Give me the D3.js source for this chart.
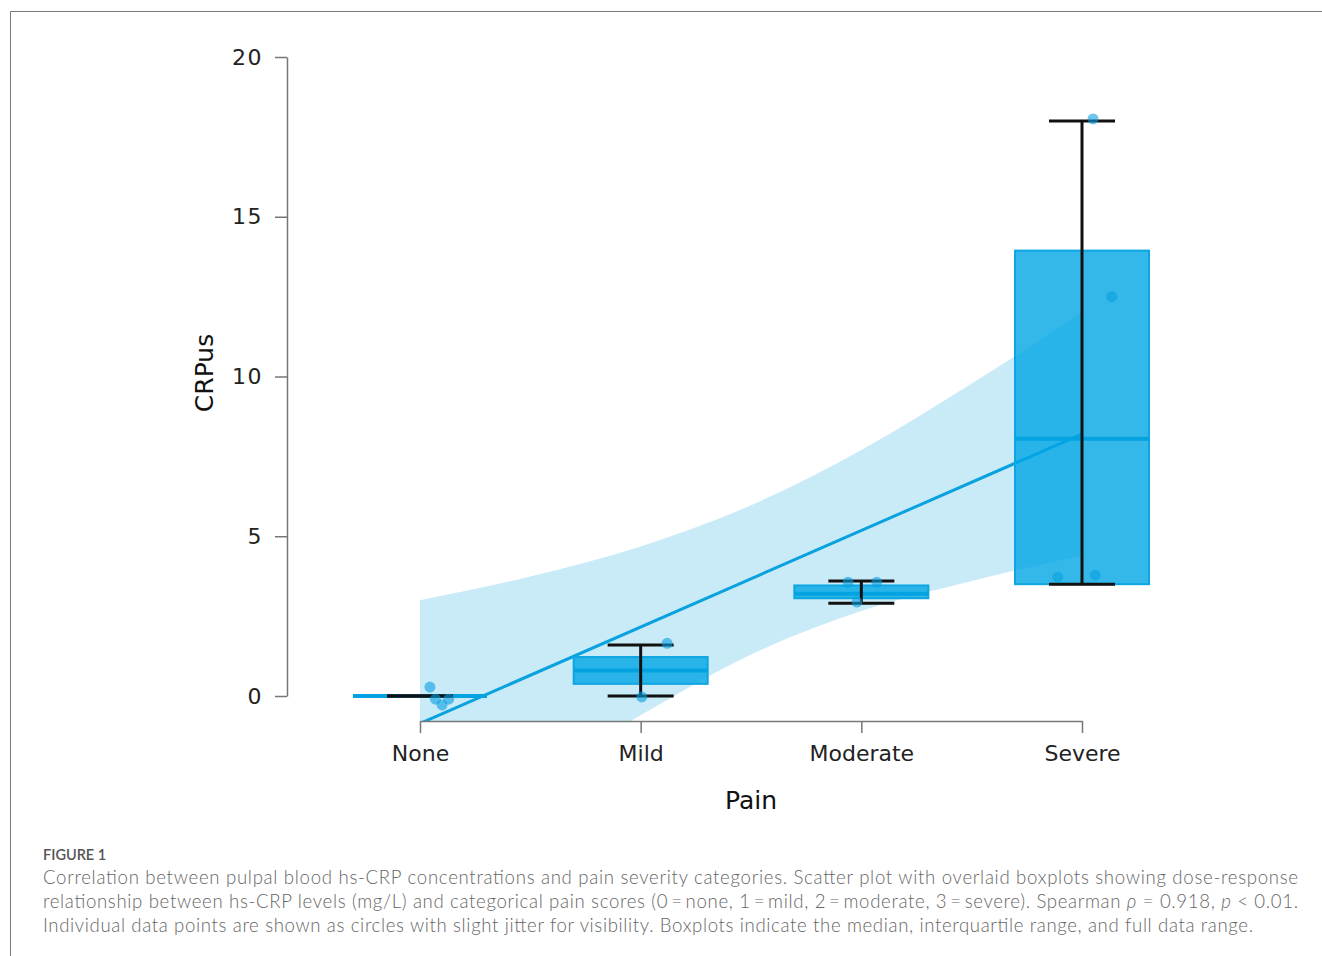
<!DOCTYPE html>
<html>
<head>
<meta charset="utf-8">
<script src="https://cdn.jsdelivr.net/npm/d3@7"></script>
<style>
body { margin: 0; background: #fff; }
svg { display: block; }
</style>
</head>
<body>
<svg width="1322" height="956"></svg>
<script>
// categories and box summaries
var categories = ["None", "Mild", "Moderate", "Severe"];
var q1 = [0, 0.38, 3.06, 3.5];
var median = [0, 0.8, 3.2, 8.05];
var q3 = [0, 1.22, 3.46, 13.94];
var whiskerLow = [0, 0, 2.9, 3.5];
var whiskerHigh = [0, 1.6, 3.6, 18.0];

// jittered points: pain score, jitter offset, value
var pointCat = [0, 0, 0, 0, 1, 1, 2, 2, 2, 3, 3, 3, 3];
var pointJitter = [0.045, 0.07, 0.10, 0.13, 0.12, 0.005, -0.06, 0.07, -0.02, 0.05, 0.135, -0.11, 0.06];
var pointValue = [0.28, -0.1, -0.28, -0.1, 1.65, -0.03, 3.56, 3.56, 2.94, 18.06, 12.5, 3.72, 3.78];

// fitted line and confidence band
var fitX = [0, 3];
var fitY = [-0.86, 8.2];
var bandX = [0, 0.5, 1, 1.5, 2, 2.5, 3];
var bandUpper = [3.0, 3.74, 4.68, 5.97, 7.7, 9.78, 12.0];
var bandLower = [-4.72, -2.6, -0.6, 1.3, 2.66, 3.6, 4.4];

var yTicks = [0, 5, 10, 15, 20];

var svg = d3.select("svg");
var font = "'DejaVu Sans', sans-serif";

var x = d3.scaleLinear().domain([0, 3]).range([420, 1082]);
var y = d3.scaleLinear().domain([0, 20]).range([696, 57]);
var boxHalf = 67, capHalf = 33;
var bottom = 721;

// frame
svg.append("path")
	.attr("d", "M10.5,956 V11.5 H1322")
	.attr("fill", "none")
	.attr("stroke", "#7a7a7a")
	.attr("stroke-width", 1);

svg.append("clipPath").attr("id", "plotclip")
	.append("rect")
	.attr("x", x(0)).attr("y", y(20))
	.attr("width", x(3) - x(0)).attr("height", bottom - y(20));

var plot = svg.append("g").attr("clip-path", "url(#plotclip)");

var band = bandX.map(function(v, i){ return {x: v, lo: bandLower[i], hi: bandUpper[i]}; });
plot.append("path")
	.datum(band)
	.attr("fill", "#c9ebf8")
	.attr("d", d3.area()
		.x(function(d){ return x(d.x); })
		.y0(function(d){ return y(d.lo); })
		.y1(function(d){ return y(d.hi); })
		.curve(d3.curveMonotoneX));

plot.append("path")
	.datum(fitX.map(function(v, i){ return [v, fitY[i]]; }))
	.attr("fill", "none")
	.attr("stroke", "#0aa2de")
	.attr("stroke-width", 3)
	.attr("d", d3.line()
		.x(function(d){ return x(d[0]); })
		.y(function(d){ return y(d[1]); }));

// boxes
var boxes = svg.append("g");
categories.forEach(function(c, i){
	var cx = x(i);
	boxes.append("rect")
		.attr("x", cx - boxHalf)
		.attr("y", y(q3[i]))
		.attr("width", boxHalf * 2)
		.attr("height", y(q1[i]) - y(q3[i]))
		.attr("fill", "rgba(0, 166, 228, 0.8)")
		.attr("stroke", "#0ea6e2")
		.attr("stroke-width", 2);
	boxes.append("line")
		.attr("x1", cx - boxHalf).attr("x2", cx + boxHalf)
		.attr("y1", y(median[i])).attr("y2", y(median[i]))
		.attr("stroke", "#03a2e0")
		.attr("stroke-width", 4);
	// whiskers
	boxes.append("line")
		.attr("x1", cx).attr("x2", cx)
		.attr("y1", y(whiskerLow[i])).attr("y2", y(whiskerHigh[i]))
		.attr("stroke", "#111").attr("stroke-width", 3);
	[whiskerLow[i], whiskerHigh[i]].forEach(function(w){
		boxes.append("line")
			.attr("x1", cx - capHalf).attr("x2", cx + capHalf)
			.attr("y1", y(w)).attr("y2", y(w))
			.attr("stroke", "#111").attr("stroke-width", 3);
	});
});

// points
svg.append("g").selectAll("circle")
	.data(pointValue)
	.enter().append("circle")
	.attr("cx", function(d, i){ return x(pointCat[i] + pointJitter[i]); })
	.attr("cy", function(d){ return y(d); })
	.attr("r", 5.5)
	.attr("fill", "rgba(8, 158, 224, 0.6)");

// axes
var yAxis = svg.append("g")
	.attr("transform", "translate(287,0)")
	.call(d3.axisLeft(y).tickValues(yTicks).tickSize(12).tickSizeOuter(0).tickPadding(12));
var xAxis = svg.append("g")
	.attr("transform", "translate(0," + bottom + ")")
	.call(d3.axisBottom(x).tickValues([0, 1, 2, 3]).tickSize(12).tickSizeOuter(0).tickPadding(12)
		.tickFormat(function(d){ return categories[d]; }));

[yAxis, xAxis].forEach(function(a){
	a.select(".domain").attr("stroke", "#777").attr("stroke-width", 1.5);
	a.selectAll(".tick line").attr("stroke", "#777").attr("stroke-width", 1.5);
	a.selectAll(".tick text").attr("fill", "#222").style("font-family", font).style("font-size", "22px");
});
yAxis.selectAll(".tick text").style("letter-spacing", "1.5px");

svg.append("text")
	.attr("x", 751).attr("y", 809)
	.attr("text-anchor", "middle")
	.style("font-family", font).style("font-size", "25px")
	.attr("fill", "#111")
	.text("Pain");

svg.append("text")
	.attr("transform", "translate(213,373) rotate(-90)")
	.attr("text-anchor", "middle")
	.style("font-family", font).style("font-size", "25px")
	.attr("fill", "#111")
	.text("CRPus");

// caption
var capFont = "Lato, 'Open Sans', sans-serif";
svg.append("text")
	.attr("x", 43).attr("y", 860)
	.style("font-family", capFont).style("font-size", "14.5px").style("font-weight", 600)
	.attr("fill", "#555")
	.text("FIGURE 1");

var lines = [
	{y: 884, w: 1255, parts: [["Correlation between pulpal blood hs-CRP concentrations and pain severity categories. Scatter plot with overlaid boxplots showing dose-response", false]]},
	{y: 908, w: 1255, parts: [["relationship between hs-CRP levels (mg/L) and categorical pain scores (0\u2009=\u2009none, 1\u2009=\u2009mild, 2\u2009=\u2009moderate, 3\u2009=\u2009severe). Spearman ", false], ["\u03c1", true], [" = 0.918, ", false], ["p", true], [" < 0.01.", false]]},
	{y: 932, w: 1210, parts: [["Individual data points are shown as circles with slight jitter for visibility. Boxplots indicate the median, interquartile range, and full data range.", false]]}
];
lines.forEach(function(l){
	var t = svg.append("text")
		.attr("x", 43).attr("y", l.y)
		.attr("textLength", l.w).attr("lengthAdjust", "spacing")
		.style("font-family", capFont).style("font-size", "18.6px").style("font-weight", 300)
		.attr("fill", "#666");
	l.parts.forEach(function(p){
		t.append("tspan").style("font-style", p[1] ? "italic" : "normal").text(p[0]);
	});
});
</script>
</body>
</html>
